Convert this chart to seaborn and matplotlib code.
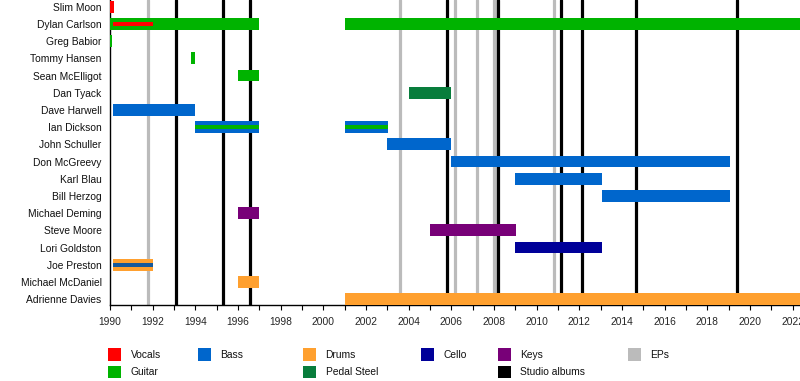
import matplotlib
matplotlib.use("Agg")
import matplotlib.pyplot as plt
from matplotlib.patches import Rectangle
from matplotlib.ticker import MultipleLocator
import seaborn as sns
import pandas as pd

END = 2022.34

members = ["Slim Moon", "Dylan Carlson", "Greg Babior", "Tommy Hansen", "Sean McElligot",
           "Dan Tyack", "Dave Harwell", "Ian Dickson", "John Schuller", "Don McGreevy",
           "Karl Blau", "Bill Herzog", "Michael Deming", "Steve Moore", "Lori Goldston",
           "Joe Preston", "Michael McDaniel", "Adrienne Davies"]

bar_member = ["Slim Moon", "Dylan Carlson", "Dylan Carlson", "Greg Babior", "Tommy Hansen",
              "Sean McElligot", "Dan Tyack", "Dave Harwell", "Ian Dickson", "Ian Dickson",
              "John Schuller", "Don McGreevy", "Karl Blau", "Bill Herzog", "Michael Deming",
              "Steve Moore", "Lori Goldston", "Joe Preston", "Michael McDaniel", "Adrienne Davies"]
bar_role = ["Vocals", "Guitar", "Guitar", "Guitar", "Guitar",
            "Guitar", "Pedal Steel", "Bass", "Bass", "Bass",
            "Bass", "Bass", "Bass", "Bass", "Keys",
            "Keys", "Cello", "Drums", "Drums", "Drums"]
bar_start = [1990.0, 1990.0, 2001.0, 1990.0, 1993.78,
             1996.0, 2004.0, 1990.15, 1994.0, 2001.0,
             2003.0, 2006.0, 2009.0, 2013.05, 1996.0,
             2005.0, 2009.0, 1990.15, 1996.0, 2001.0]
bar_end = [1990.19, 1997.0, END, 1990.08, 1994.0,
           1997.0, 2006.0, 1994.0, 1997.0, 2003.05,
           2006.0, 2019.07, 2013.05, 2019.07, 1997.0,
           2009.05, 2013.05, 1992.0, 1997.0, END]

inner_member = ["Dylan Carlson", "Ian Dickson", "Ian Dickson", "Joe Preston"]
inner_role = ["Vocals", "Guitar", "Guitar", "Bass"]
inner_start = [1990.15, 1994.0, 2001.0, 1990.15]
inner_end = [1992.0, 1997.0, 2003.05, 1992.0]

album_years = [1993.09, 1995.3, 1996.55, 2005.8, 2008.2, 2011.15, 2012.1, 2014.66, 2019.4]
ep_years = [1991.8, 2003.6, 2006.15, 2007.2, 2007.98, 2008.06, 2010.82]

role_colors = {"Vocals": "#FF0000", "Guitar": "#00B300", "Bass": "#0066CC",
               "Drums": "#FFA02F", "Pedal Steel": "#087D3C", "Cello": "#000099",
               "Keys": "#780078"}
inner_colors = dict(role_colors, Bass="#16599C")

bars = pd.DataFrame({"member": bar_member, "role": bar_role, "start": bar_start, "end": bar_end})
inner = pd.DataFrame({"member": inner_member, "role": inner_role, "start": inner_start, "end": inner_end})

sns.set_theme(style="white")
plt.rcParams["font.family"] = ["Liberation Sans", "DejaVu Sans"]

fig = plt.figure(figsize=(8, 3.81), dpi=100)
ax = fig.add_axes([0.1375, 0.1995, 0.8625, 0.8005])

ypos = {m: i for i, m in enumerate(members)}

for x in ep_years:
    ax.axvline(x, color="#BBBBBB", lw=2.3, zorder=1)
for x in album_years:
    ax.axvline(x, color="black", lw=2.3, zorder=1.5)

ax.barh([ypos[m] for m in bars["member"]], bars["end"] - bars["start"], left=bars["start"],
        height=0.68, color=[role_colors[r] for r in bars["role"]], zorder=3, linewidth=0)
ax.barh([ypos[m] for m in inner["member"]], inner["end"] - inner["start"], left=inner["start"],
        height=0.22, color=[inner_colors[r] for r in inner["role"]], zorder=4, linewidth=0)

ax.set_xlim(1990, END)
ax.set_ylim(17.34, -0.39)
ax.set_yticks(range(len(members)))
ax.set_yticklabels(members, fontsize=7.4, color="#111111")
ax.tick_params(axis="y", length=0, pad=6)
ax.xaxis.set_major_locator(MultipleLocator(2))
ax.xaxis.set_minor_locator(MultipleLocator(1))
ax.tick_params(axis="x", which="both", direction="out", length=3.5, width=0.8,
               color="black", labelsize=7.4, pad=5.5, bottom=True)
ax.set_xticklabels([f"{int(t)}" for t in ax.get_xticks()])
sns.despine(ax=ax, top=True, right=True)
for s in ["left", "bottom"]:
    ax.spines[s].set_color("black")
    ax.spines[s].set_linewidth(1.0)
ax.set_facecolor("white")
ax.grid(False)

# legend
legend_items = [("Vocals", role_colors["Vocals"], 108, 0), ("Guitar", role_colors["Guitar"], 108, 1),
                ("Bass", role_colors["Bass"], 198, 0),
                ("Drums", role_colors["Drums"], 303, 0), ("Pedal Steel", role_colors["Pedal Steel"], 303, 1),
                ("Cello", role_colors["Cello"], 421, 0),
                ("Keys", role_colors["Keys"], 498, 0), ("Studio albums", "black", 498, 1),
                ("EPs", "#BBBBBB", 628, 0)]
W, H = 800, 381
for label, col, px, row in legend_items:
    cy = 354.5 + row * 17.5
    fig.patches.append(Rectangle((px / W, (H - cy - 6.3) / H), 12.7 / W, 12.7 / H,
                                 transform=fig.transFigure, color=col, lw=0))
    fig.text((px + 22.5) / W, (H - cy) / H, label, fontsize=7.4, va="center", ha="left",
             color="#111111")

fig.savefig("out.png", dpi=100)
